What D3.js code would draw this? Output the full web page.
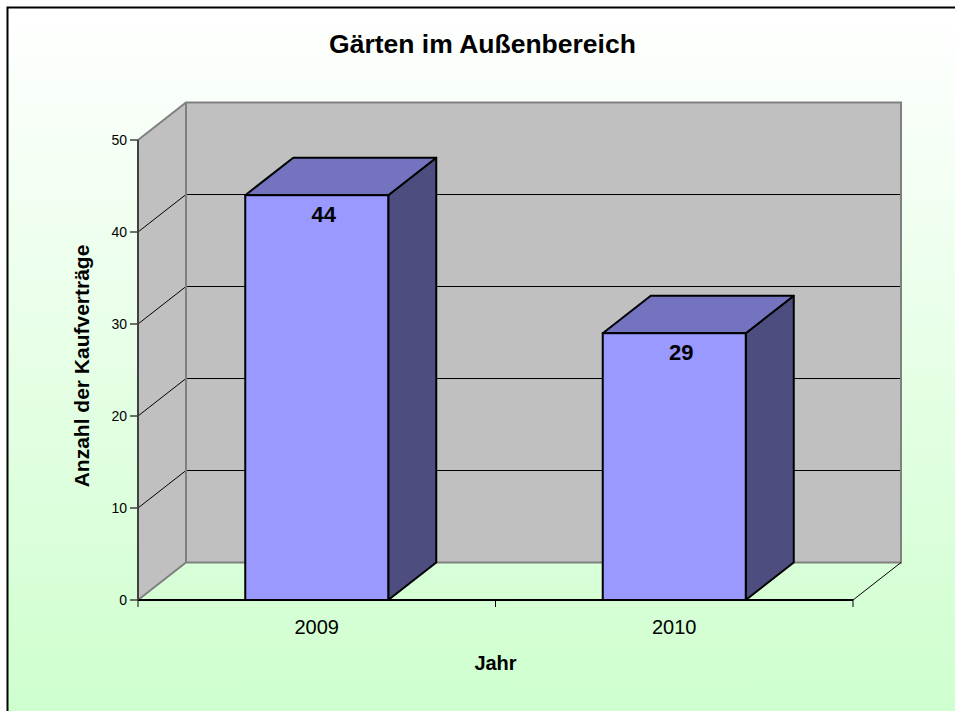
<!DOCTYPE html>
<html>
<head>
<meta charset="utf-8">
<script src="https://cdn.jsdelivr.net/npm/d3@7"></script>
<style>
  html, body { margin: 0; padding: 0; background: #fff; }
  svg { display: block; font-family: "Liberation Sans", Arial, sans-serif; }
</style>
</head>
<body>
<svg id="chart" width="955" height="711"></svg>
<script>
// Kaufverträge für Gärten im Außenbereich, je Jahr
const years = ["2009", "2010"];
const contracts = [44, 29];
const yTicks = [0, 10, 20, 30, 40, 50];

const chartTitle = "Gärten im Außenbereich";
const xTitle = "Jahr";
const yTitle = "Anzahl der Kaufverträge";

const W = 955, H = 711;
const svg = d3.select("#chart");

// background gradient + frame
const defs = svg.append("defs");
const grad = defs.append("linearGradient")
  .attr("id", "bg").attr("x1", 0).attr("y1", 0).attr("x2", 0).attr("y2", 1);
grad.append("stop").attr("offset", "0%").attr("stop-color", "#ffffff");
grad.append("stop").attr("offset", "100%").attr("stop-color", "#ccffcc");

svg.append("rect").attr("x", 0).attr("y", 0).attr("width", W).attr("height", H).attr("fill", "#fff");
svg.append("rect")
  .attr("x", 7.5).attr("y", 7.5).attr("width", W + 20).attr("height", H + 20)
  .attr("fill", "url(#bg)").attr("stroke", "#000").attr("stroke-width", 2);

// plot geometry (front plane) and 3D depth offset
const plotL = 138, plotR = 853, plotB = 600, plotT = 140;
const dx = 48, dy = -37.5;

const x = d3.scaleBand().domain(years).range([plotL, plotR]).paddingInner(0.6).paddingOuter(0.3);
const y = d3.scaleLinear().domain([0, 50]).range([plotB, plotT]);

const g = svg.append("g");

// back wall
g.append("rect")
  .attr("x", plotL + dx).attr("y", y(50) + dy)
  .attr("width", plotR - plotL).attr("height", y(0) - y(50))
  .attr("fill", "#c0c0c0");
// left side wall
g.append("path")
  .attr("d", `M${plotL},${y(0)} L${plotL},${y(50)} L${plotL + dx},${y(50) + dy} L${plotL + dx},${y(0) + dy} Z`)
  .attr("fill", "#c0c0c0");

// gridlines on both walls
const gridVals = yTicks.filter(v => v > 0 && v < 50);
g.selectAll("line.gridBack").data(gridVals).join("line")
  .attr("x1", plotL + dx).attr("x2", plotR + dx)
  .attr("y1", d => y(d) + dy).attr("y2", d => y(d) + dy)
  .attr("stroke", "#000").attr("stroke-width", 1);
g.selectAll("line.gridSide").data(gridVals).join("line")
  .attr("x1", plotL).attr("x2", plotL + dx)
  .attr("y1", d => y(d)).attr("y2", d => y(d) + dy)
  .attr("stroke", "#000").attr("stroke-width", 1);

// wall edges
const edge = "#808080";
g.append("path")
  .attr("d", `M${plotL},${y(50)} L${plotL + dx},${y(50) + dy} L${plotR + dx},${y(50) + dy} L${plotR + dx},${y(0) + dy} L${plotL + dx},${y(0) + dy} L${plotL},${y(0)}`)
  .attr("fill", "none").attr("stroke", edge).attr("stroke-width", 2);
g.append("line")
  .attr("x1", plotL + dx).attr("x2", plotL + dx)
  .attr("y1", y(50) + dy).attr("y2", y(0) + dy)
  .attr("stroke", edge).attr("stroke-width", 2);

// floor right edge
g.append("line")
  .attr("x1", plotR).attr("y1", y(0)).attr("x2", plotR + dx).attr("y2", y(0) + dy)
  .attr("stroke", "#000").attr("stroke-width", 1);

// 3D bars
const data = years.map((yr, i) => ({ year: yr, value: contracts[i] }));
const bars = g.selectAll("g.bar").data(data).join("g").attr("class", "bar");
const bw = x.bandwidth();

bars.append("path") // side face
  .attr("d", d => {
    const x1 = x(d.year) + bw, yt = y(d.value), yb = y(0);
    return `M${x1},${yb} L${x1},${yt} L${x1 + dx},${yt + dy} L${x1 + dx},${yb + dy} Z`;
  })
  .attr("fill", "#4d4d80").attr("stroke", "#000").attr("stroke-width", 2).attr("stroke-linejoin", "round");
bars.append("path") // top face
  .attr("d", d => {
    const x0 = x(d.year), x1 = x0 + bw, yt = y(d.value);
    return `M${x0},${yt} L${x0 + dx},${yt + dy} L${x1 + dx},${yt + dy} L${x1},${yt} Z`;
  })
  .attr("fill", "#7373bf").attr("stroke", "#000").attr("stroke-width", 2).attr("stroke-linejoin", "round");
bars.append("rect") // front face
  .attr("x", d => x(d.year)).attr("y", d => y(d.value))
  .attr("width", bw).attr("height", d => y(0) - y(d.value))
  .attr("fill", "#9999ff").attr("stroke", "#000").attr("stroke-width", 2);

// value labels
bars.append("text")
  .attr("x", d => x(d.year) + bw / 2 + 7)
  .attr("y", d => y(d.value) + 27)
  .attr("text-anchor", "middle")
  .attr("font-size", 22).attr("font-weight", "bold").attr("fill", "#000")
  .text(d => d.value);

// front floor edge (x axis)
g.append("line")
  .attr("x1", plotL).attr("x2", plotR).attr("y1", y(0)).attr("y2", y(0))
  .attr("stroke", "#000").attr("stroke-width", 2);
const xTickPos = d3.range(years.length + 1).map(i => plotL + i * x.step());
g.selectAll("line.xt").data(xTickPos).join("line")
  .attr("x1", d => d).attr("x2", d => d)
  .attr("y1", y(0)).attr("y2", y(0) + 7)
  .attr("stroke", "#000").attr("stroke-width", 1);
g.selectAll("text.xl").data(years).join("text")
  .attr("x", d => x(d) + bw / 2)
  .attr("y", 634)
  .attr("text-anchor", "middle")
  .attr("font-size", 20).attr("fill", "#000")
  .text(d => d);

// y axis
g.append("line")
  .attr("x1", plotL).attr("x2", plotL).attr("y1", y(50)).attr("y2", y(0))
  .attr("stroke", "#404040").attr("stroke-width", 2);
g.selectAll("line.yt").data(yTicks).join("line")
  .attr("x1", plotL - 8).attr("x2", plotL)
  .attr("y1", d => y(d)).attr("y2", d => y(d))
  .attr("stroke", "#404040").attr("stroke-width", 1.5);
g.selectAll("text.yl").data(yTicks).join("text")
  .attr("x", plotL - 11)
  .attr("y", d => y(d) + 5)
  .attr("text-anchor", "end")
  .attr("font-size", 14).attr("fill", "#000")
  .text(d => d);

// titles
svg.append("text")
  .attr("x", 482.5).attr("y", 53)
  .attr("text-anchor", "middle")
  .attr("font-size", 26.5).attr("font-weight", "bold")
  .text(chartTitle);
svg.append("text")
  .attr("x", 495.5).attr("y", 670)
  .attr("text-anchor", "middle")
  .attr("font-size", 20).attr("font-weight", "bold")
  .text(xTitle);
svg.append("text")
  .attr("transform", "translate(89,366) rotate(-90)")
  .attr("text-anchor", "middle")
  .attr("font-size", 21).attr("font-weight", "bold")
  .text(yTitle);
</script>
</body>
</html>
